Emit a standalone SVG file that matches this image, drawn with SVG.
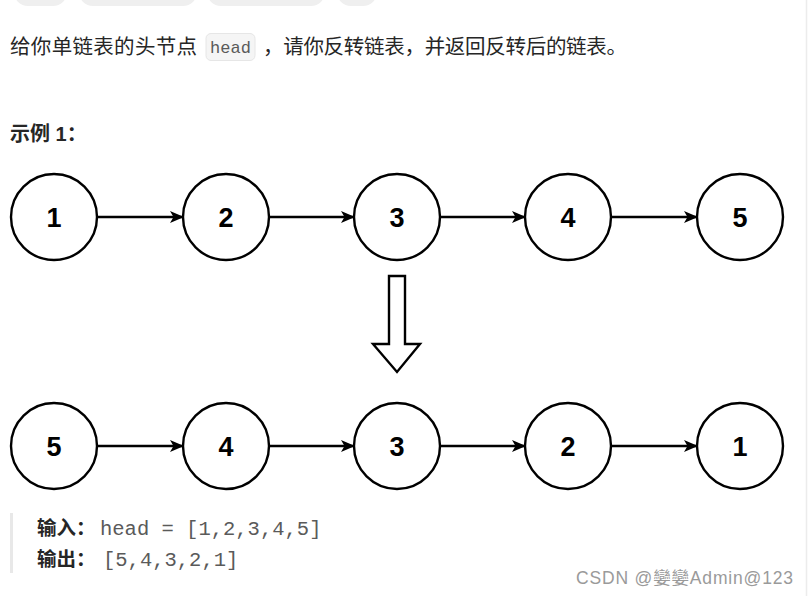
<svg xmlns="http://www.w3.org/2000/svg" width="808" height="596" viewBox="0 0 808 596">
<defs>
<style>
.cn{font-family:"Liberation Sans","Noto Sans CJK SC",sans-serif;}
.p{font-size:20.5px;fill:#262626;}
.code{font-family:"Liberation Mono","DejaVu Sans Mono",monospace;fill:#5a5a5a;}
.node circle{fill:#fff;stroke:#000;stroke-width:2.4;}
.node text{font-family:"Liberation Sans",Arial,sans-serif;font-weight:bold;font-size:27px;fill:#000;text-anchor:middle;}
.edge{stroke:#000;stroke-width:2.4;fill:none;marker-end:url(#ah);}
.pill{fill:#efefef;}
</style>
<marker id="ah" viewBox="0 0 14 12" refX="13" refY="6" markerWidth="14" markerHeight="12" markerUnits="userSpaceOnUse" orient="auto">
<path d="M0,0 L14,6 L0,12 L3.5,6 Z" fill="#000"/>
</marker>
</defs>
<rect width="808" height="596" fill="#fff"/>
<line x1="806.5" y1="0" x2="806.5" y2="596" stroke="#ececec" stroke-width="1.5"/>
<g id="tabs">
<rect class="pill" x="14" y="-30" width="53" height="36" rx="14"/>
<rect class="pill" x="79" y="-30" width="118" height="36" rx="14"/>
<rect class="pill" x="207" y="-30" width="118" height="36" rx="14"/>
<rect class="pill" x="337" y="-30" width="40" height="36" rx="14"/>
</g>
<g id="intro">
<text class="cn p" x="10" y="54" textLength="187" lengthAdjust="spacing">给你单链表的头节点</text>
<rect x="206" y="33.5" width="49" height="27" rx="5" fill="#f5f5f5" stroke="#e6e6e6"/>
<text class="code" x="230.5" y="53" font-size="17" text-anchor="middle">head</text>
<text class="cn p" x="263" y="54" textLength="364" lengthAdjust="spacing">，请你反转链表，并返回反转后的链表。</text>
</g>
<text class="cn" x="10" y="141" font-size="20" font-weight="bold" fill="#262626">示例 1：</text>
<g id="top-row">
<g id="t1" class="node"><circle cx="54" cy="217" r="43"/><text x="54" y="226.5">1</text></g>
<g id="t2" class="node"><circle cx="226" cy="217" r="43"/><text x="226" y="226.5">2</text></g>
<g id="t3" class="node"><circle cx="397" cy="217" r="43"/><text x="397" y="226.5">3</text></g>
<g id="t4" class="node"><circle cx="568" cy="217" r="43"/><text x="568" y="226.5">4</text></g>
<g id="t5" class="node"><circle cx="740" cy="217" r="43"/><text x="740" y="226.5">5</text></g>
</g>
<g id="bottom-row">
<g id="b5" class="node"><circle cx="54" cy="446" r="43"/><text x="54" y="455.5">5</text></g>
<g id="b4" class="node"><circle cx="226" cy="446" r="43"/><text x="226" y="455.5">4</text></g>
<g id="b3" class="node"><circle cx="397" cy="446" r="43"/><text x="397" y="455.5">3</text></g>
<g id="b2" class="node"><circle cx="568" cy="446" r="43"/><text x="568" y="455.5">2</text></g>
<g id="b1" class="node"><circle cx="740" cy="446" r="43"/><text x="740" y="455.5">1</text></g>
</g>
<g id="connectors">
<line class="edge" x1="97" y1="217" x2="183" y2="217"/>
<line class="edge" x1="269" y1="217" x2="354" y2="217"/>
<line class="edge" x1="440" y1="217" x2="525" y2="217"/>
<line class="edge" x1="611" y1="217" x2="697" y2="217"/>
<line class="edge" x1="97" y1="446" x2="183" y2="446"/>
<line class="edge" x1="269" y1="446" x2="354" y2="446"/>
<line class="edge" x1="440" y1="446" x2="525" y2="446"/>
<line class="edge" x1="611" y1="446" x2="697" y2="446"/>
</g>
<g id="big-arrow">
<path d="M389,276 L405,276 L405,344 L420,344 L397,372 L373,344 L389,344 Z" fill="#fff" stroke="#000" stroke-width="2.4" stroke-linejoin="miter"/>
</g>
<g id="example">
<rect x="10" y="513" width="3" height="60" fill="#e8e8e8"/>
<text class="cn" x="37" y="535" font-size="19.5" font-weight="bold" fill="#262626">输入：</text>
<text class="code" x="100" y="535" font-size="20.5" fill="#666">head = [1,2,3,4,5]</text>
<text class="cn" x="37" y="566" font-size="19.5" font-weight="bold" fill="#262626">输出：</text>
<text class="code" x="103" y="566" font-size="20.5">[5,4,3,2,1]</text>
</g>
<text class="cn" x="576" y="584" font-size="17.5" fill="#9a9a9a" textLength="217" lengthAdjust="spacing">CSDN @孌孌Admin@123</text>
</svg>
